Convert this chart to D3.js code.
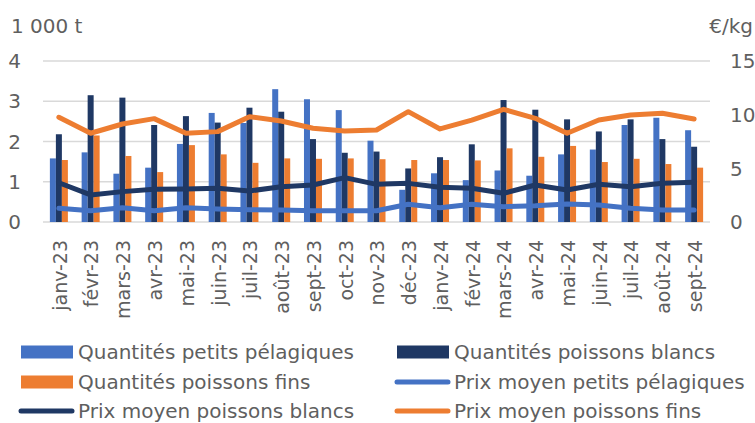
<!DOCTYPE html>
<html lang="fr">
  <head>
    <meta charset="utf-8">
    <title>Quantités et prix moyens</title>
    <script src="https://cdn.jsdelivr.net/npm/d3@7"></script>
    <style type="text/css">
      body { margin: 0; background: #fff; }
      svg text { font-family: "DejaVu Sans", sans-serif; fill: #5f5f5f; }
      .grid line { stroke: #d9d9d9; stroke-width: 1.5; }
      .price { fill: none; stroke-width: 5; stroke-linejoin: round; stroke-linecap: round; }
    </style>
  </head>
  <body>
    <svg width="755" height="423"></svg>
    <script type="text/javascript">
      // months shown on the x axis
      var months = ["janv-23", "févr-23", "mars-23", "avr-23", "mai-23", "juin-23", "juil-23",
        "août-23", "sept-23", "oct-23", "nov-23", "déc-23", "janv-24", "févr-24", "mars-24",
        "avr-24", "mai-24", "juin-24", "juil-24", "août-24", "sept-24"];

      // quantities, 1 000 t (left axis)
      var qtePelagiques = [1.58, 1.73, 1.20, 1.35, 1.94, 2.71, 2.46, 3.30, 3.05, 2.78, 2.02,
        0.80, 1.21, 1.04, 1.28, 1.15, 1.68, 1.80, 2.41, 2.59, 2.28];
      var qteBlancs = [2.18, 3.15, 3.09, 2.41, 2.63, 2.47, 2.84, 2.74, 2.06, 1.72, 1.75,
        1.33, 1.61, 1.93, 3.03, 2.79, 2.55, 2.25, 2.55, 2.06, 1.87];
      var qteFins = [1.54, 2.15, 1.64, 1.24, 1.91, 1.68, 1.47, 1.58, 1.57, 1.58, 1.56,
        1.54, 1.54, 1.53, 1.83, 1.62, 1.89, 1.49, 1.57, 1.44, 1.35];

      // average prices, €/kg (right axis)
      var prixPelagiques = [1.28, 1.05, 1.33, 1.05, 1.33, 1.21, 1.15, 1.12, 1.05, 1.05, 1.05,
        1.65, 1.33, 1.65, 1.43, 1.52, 1.68, 1.58, 1.28, 1.12, 1.12];
      var prixBlancs = [3.66, 2.52, 2.83, 3.05, 3.08, 3.14, 2.89, 3.29, 3.45, 4.13, 3.51,
        3.60, 3.23, 3.14, 2.67, 3.45, 2.98, 3.51, 3.29, 3.60, 3.70];
      var prixFins = [9.76, 8.27, 9.13, 9.63, 8.27, 8.42, 9.81, 9.41, 8.73, 8.48, 8.57,
        10.28, 8.67, 9.50, 10.50, 9.66, 8.27, 9.50, 9.97, 10.13, 9.60];

      var leftTicks = [0, 1, 2, 3, 4];
      var rightTicks = [0, 5, 10, 15];

      var colPelagiques = "#4472c4",
          colBlancs = "#1f3864",
          colFins = "#ed7d31";

      var svg = d3.select("svg");

      var x0 = d3.scaleBand().domain(months).range([43, 710]);
      var x1 = d3.scaleBand().domain(["p", "b", "f"]).range([-9, 9]);
      var yL = d3.scaleLinear().domain([0, 4]).range([222, 61]);
      var yR = d3.scaleLinear().domain([0, 15]).range([222, 61]);

      function cx(m) { return x0(m) + x0.bandwidth() / 2; }

      // gridlines
      svg.append("g")
        .attr("class", "grid")
        .selectAll("line")
        .data(leftTicks)
        .enter().append("line")
          .attr("x1", 43)
          .attr("x2", 710)
          .attr("y1", function(d) { return yL(d); })
          .attr("y2", function(d) { return yL(d); });

      // left axis
      svg.append("g")
        .selectAll("text")
        .data(leftTicks)
        .enter().append("text")
          .attr("x", 21)
          .attr("y", function(d) { return yL(d); })
          .attr("dy", ".36em")
          .attr("text-anchor", "end")
          .style("font-size", "20px")
          .text(function(d) { return d; });

      svg.append("text")
        .attr("x", 11)
        .attr("y", 33)
        .style("font-size", "20px")
        .text("1 000 t");

      // right axis
      svg.append("g")
        .selectAll("text")
        .data(rightTicks)
        .enter().append("text")
          .attr("x", 730)
          .attr("y", function(d) { return yR(d); })
          .attr("dy", ".36em")
          .style("font-size", "20px")
          .text(function(d) { return d; });

      svg.append("text")
        .attr("x", 753)
        .attr("y", 33)
        .attr("text-anchor", "end")
        .style("font-size", "20px")
        .text("€/kg");

      // bars
      var barSeries = [
        { key: "p", values: qtePelagiques, color: colPelagiques },
        { key: "b", values: qteBlancs, color: colBlancs },
        { key: "f", values: qteFins, color: colFins }
      ];

      barSeries.forEach(function(s) {
        svg.append("g")
          .selectAll("rect")
          .data(s.values)
          .enter().append("rect")
            .attr("x", function(d, i) { return cx(months[i]) + x1(s.key); })
            .attr("width", x1.bandwidth())
            .attr("y", function(d) { return yL(d); })
            .attr("height", function(d) { return yL(0) - yL(d); })
            .style("fill", s.color);
      });

      // price lines
      var line = d3.line()
        .x(function(d, i) { return cx(months[i]); })
        .y(function(d) { return yR(d); });

      [[prixPelagiques, colPelagiques], [prixBlancs, colBlancs], [prixFins, colFins]].forEach(function(s) {
        svg.append("path")
          .datum(s[0])
          .attr("class", "price")
          .attr("stroke", s[1])
          .attr("d", line);
      });

      // month labels
      svg.append("g")
        .selectAll("text")
        .data(months)
        .enter().append("text")
          .attr("transform", function(d) { return "translate(" + (cx(d) + 1) + ",240) rotate(-90)"; })
          .attr("dy", ".36em")
          .attr("text-anchor", "end")
          .style("font-size", "19px")
          .text(function(d) { return d; });

      // legend
      var legendItems = [
        { label: "Quantités petits pélagiques", color: colPelagiques, type: "bar", x: 21, y: 352 },
        { label: "Quantités poissons blancs", color: colBlancs, type: "bar", x: 397, y: 352 },
        { label: "Quantités poissons fins", color: colFins, type: "bar", x: 21, y: 382 },
        { label: "Prix moyen petits pélagiques", color: colPelagiques, type: "line", x: 397, y: 382 },
        { label: "Prix moyen poissons blancs", color: colBlancs, type: "line", x: 21, y: 411 },
        { label: "Prix moyen poissons fins", color: colFins, type: "line", x: 397, y: 411 }
      ];

      var legend = svg.selectAll(".legend")
        .data(legendItems)
        .enter().append("g")
          .attr("class", "legend")
          .attr("transform", function(d) { return "translate(" + d.x + "," + d.y + ")"; });

      legend.filter(function(d) { return d.type == "bar"; })
        .append("rect")
          .attr("x", 0)
          .attr("y", -6.5)
          .attr("width", 52)
          .attr("height", 13)
          .style("fill", function(d) { return d.color; });

      legend.filter(function(d) { return d.type == "line"; })
        .append("line")
          .attr("x1", 0)
          .attr("x2", 51)
          .attr("y1", 0)
          .attr("y2", 0)
          .attr("stroke", function(d) { return d.color; })
          .attr("stroke-width", 5)
          .attr("stroke-linecap", "round");

      legend.append("text")
        .attr("x", 57)
        .attr("y", 0)
        .attr("dy", ".36em")
        .style("font-size", "20px")
        .text(function(d) { return d.label; });
    </script>
  </body>
</html>
